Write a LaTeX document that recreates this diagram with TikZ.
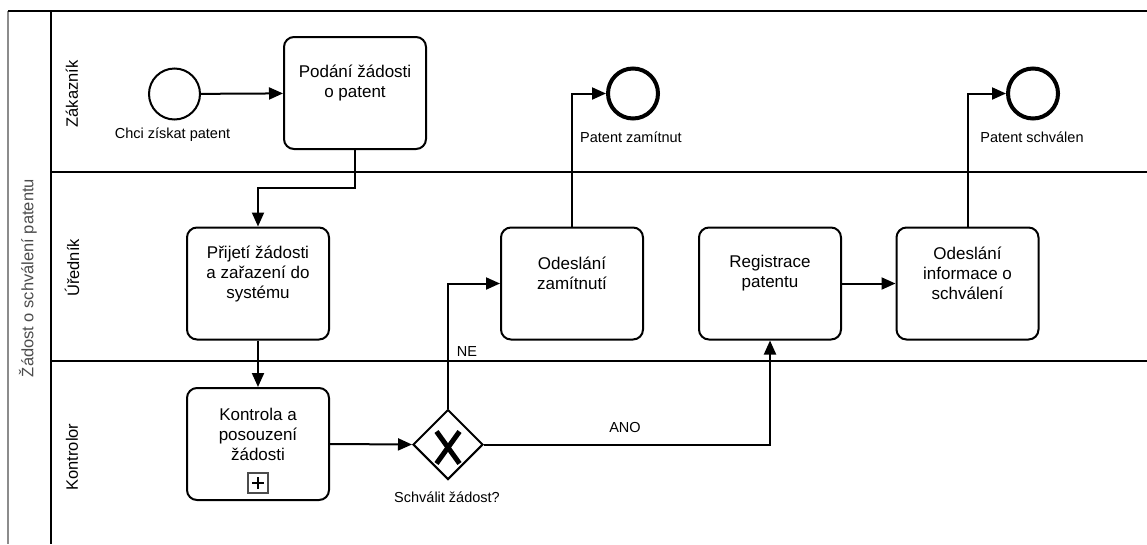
\documentclass[tikz,border=0pt]{standalone}
\usepackage{fontspec}
\setmainfont{Liberation Sans}
\usetikzlibrary{arrows.meta,shapes.geometric}
\begin{document}
\begin{tikzpicture}[x=1pt,y=-1pt,
  laneline/.style={line width=2pt, draw=black},
  poolline/.style={line width=1.5pt, draw=black!45},
  task/.style={draw, line width=2pt, rounded corners=10pt, minimum width=142pt, minimum height=112pt, inner sep=0pt},
  tasktext/.style={align=center, font=\fontsize{17}{20}\selectfont, inner sep=0pt},
  startev/.style={draw, circle, line width=2pt, minimum size=51pt, inner sep=0pt},
  endev/.style={draw, circle, line width=4pt, minimum size=50pt, inner sep=0pt},
  gateway/.style={draw, diamond, aspect=1, line width=2pt, minimum size=70pt, inner sep=0pt},
  evlabel/.style={font=\fontsize{14.5}{17}\selectfont, anchor=base, inner sep=0pt},
  lanelabel/.style={font=\fontsize{16.5}{20}\selectfont, rotate=90, inner sep=0pt},
  poollabel/.style={font=\fontsize{16.5}{20}\selectfont, rotate=90, inner sep=0pt, text=black!70},
  flow/.style={draw, line width=2pt, -{Triangle[length=14pt,width=12pt]}},
  xmark/.style={line width=5pt},
  plusbox/.style={draw=black!70, line width=1.5pt, minimum size=20pt, inner sep=0pt},
  plusmark/.style={line width=2.5pt}
]
\useasboundingbox (0,0) rectangle (1147,544);
% pool and lanes
\fill[white] (0,0) rectangle (1147,544);
\draw[poolline] (8,11) -- (8,544);
\draw[laneline] (8,11) -- (1147,11);
\draw[laneline] (51,11) -- (51,544);
\draw[laneline] (51,172) -- (1147,172);
\draw[laneline] (51,361) -- (1147,361);
\node[poollabel] (pool) at (28,278) {Žádost o schválení patentu};
\node[lanelabel] (lz) at (72,94) {Zákazník};
\node[lanelabel] (lu) at (72,268) {Úředník};
\node[lanelabel] (lk) at (72,457) {Kontrolor};

% events
\node[startev] (s) at (174.5,94) {};
\node[evlabel] (sl) at (172.5,138) {Chci získat patent};
\node[endev] (e1) at (633,93.5) {};
\node[evlabel] (e1l) at (631,142) {Patent zamítnut};
\node[endev] (e2) at (1033,93.5) {};
\node[evlabel] (e2l) at (1032,142) {Patent schválen};

% tasks
\node[task] (t1) at (355,93) {};
\node[tasktext] (t1x) at ([yshift=10pt]t1.center) {Podání žádosti\\o patent};
\node[task] (t2) at (258,283.5) {};
\node[tasktext] (t2x) at ([yshift=10pt]t2.center) {Přijetí žádosti\\a zařazení do\\systému};
\node[task] (t3) at (258,444) {};
\node[tasktext] (t3x) at ([yshift=10pt]t3.center) {Kontrola a\\posouzení\\žádosti};
\node[plusbox] (pb) at ([yshift=-39pt]t3.center) {};
\draw[plusmark] ([xshift=-6pt]pb.center) -- ([xshift=6pt]pb.center);
\draw[plusmark] ([yshift=-6pt]pb.center) -- ([yshift=6pt]pb.center);
\node[task] (t4) at (572,283.5) {};
\node[tasktext] (t4x) at ([yshift=10pt]t4.center) {Odeslání\\zamítnutí};
\node[task] (t5) at (770,283.5) {};
\node[tasktext] (t5x) at ([yshift=10pt]t5.center) {Registrace\\patentu};
\node[task] (t6) at (967.5,283.5) {};
\node[tasktext] (t6x) at ([yshift=10pt]t6.center) {Odeslání\\informace o\\schválení};

% gateway
\node[gateway] (g) at (448,444.5) {};
\draw[xmark] ([shift={(-11.5,-13)}]g.center) -- ([shift={(11.5,19)}]g.center);
\draw[xmark] ([shift={(11.5,-13)}]g.center) -- ([shift={(-11.5,19)}]g.center);
\node[evlabel] (gl) at (447,502) {Schválit žádost?};

% flows
\draw[flow] (s) -- (t1);
\draw[flow] (t1.south) -- ++(0,38) -| (t2.north);
\draw[flow] (t2) -- (t3);
\draw[flow] (t3.east) -- (g.west);
\draw[flow] (g.north) |- (t4.west);
\node[evlabel] (ne) at (467,356) {NE};
\draw[flow] (t4.north) |- (e1.west);
\draw[flow] (g.east) -| (t5.south);
\node[evlabel] (ano) at (625,432) {ANO};
\draw[flow] (t5) -- (t6);
\draw[flow] (t6.north) |- (e2.west);
\end{tikzpicture}
\end{document}
